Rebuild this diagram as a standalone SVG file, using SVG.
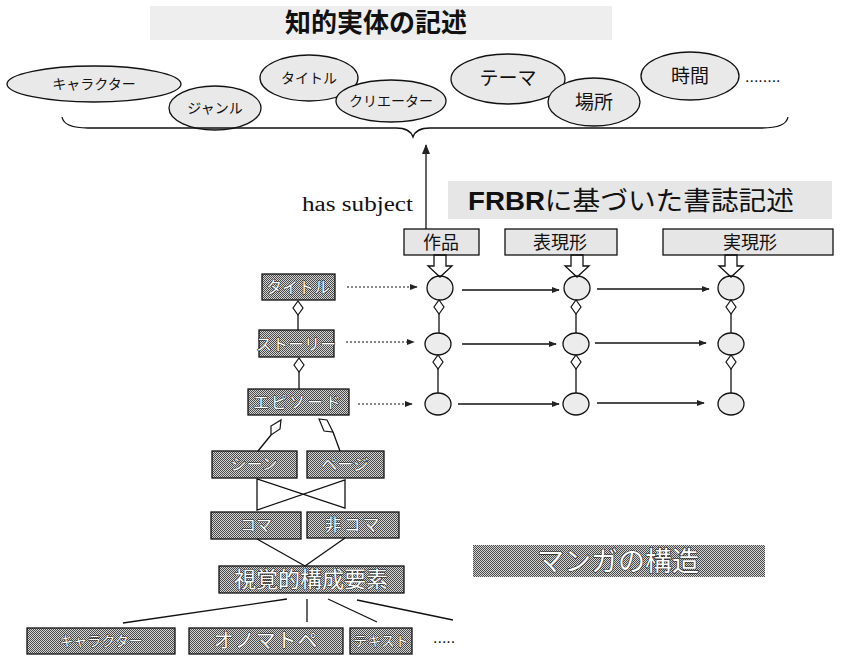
<svg xmlns="http://www.w3.org/2000/svg" width="842" height="659" viewBox="0 0 842 659">
<style>
.jp{font-family:"Noto Sans CJK JP","Noto Sans",sans-serif;}
.lbl{fill:#111;text-anchor:middle;}
.wt{fill:#fff;stroke:#222;stroke-width:1;paint-order:stroke;text-anchor:middle;font-family:"Noto Sans CJK JP",sans-serif;}
.ell{fill:#e9e9e9;stroke:#111;stroke-width:1.3;}
.dk{fill:url(#dither);stroke:#111;stroke-width:1.3;}
.lt{fill:#e6e6e6;stroke:#111;stroke-width:1.3;}
.ln{stroke:#111;stroke-width:1.3;fill:none;}
.dot{stroke:#111;stroke-width:1.2;stroke-dasharray:2 2;fill:none;}
.dia{fill:#fff;stroke:#111;stroke-width:1.2;}
.cir{fill:#ececec;stroke:#111;stroke-width:1.3;}
</style>
<defs>
<pattern id="dither" width="2" height="2" patternUnits="userSpaceOnUse">
<rect width="2" height="2" fill="#d4d4d4"/>
<rect width="1" height="1" fill="#4a4a4a"/>
<rect x="1" y="1" width="1" height="1" fill="#4a4a4a"/>
</pattern>
<marker id="ah" viewBox="0 0 10 10" refX="9" refY="5" markerWidth="8" markerHeight="8" markerUnits="userSpaceOnUse" orient="auto">
<path d="M0,1 L10,5 L0,9 Z" fill="#222"/>
</marker>
<marker id="ahb" viewBox="0 0 10 10" refX="9" refY="5" markerWidth="10" markerHeight="10" markerUnits="userSpaceOnUse" orient="auto">
<path d="M0,1 L10,5 L0,9 Z" fill="#222"/>
</marker>
</defs>
<rect width="842" height="659" fill="#fff"/>

<g id="title1">
<rect x="150" y="6" width="462" height="34" fill="#eeeeee"/>
<text x="376" y="32" class="jp" font-size="26" font-weight="bold" text-anchor="middle" fill="#111">知的実体の記述</text>
</g>

<g id="e-character"><ellipse class="ell" cx="94" cy="84" rx="87" ry="18"/><text class="jp lbl" x="94" y="89" font-size="14">キャラクター</text></g>
<g id="e-genre"><ellipse class="ell" cx="215" cy="108" rx="46" ry="22"/><text class="jp lbl" x="215" y="113" font-size="14">ジャンル</text></g>
<g id="e-title"><ellipse class="ell" cx="309" cy="78" rx="49" ry="23"/><text class="jp lbl" x="309" y="83" font-size="14">タイトル</text></g>
<g id="e-creator"><ellipse class="ell" cx="391" cy="101" rx="55" ry="21"/><text class="jp lbl" x="391" y="106" font-size="14">クリエーター</text></g>
<g id="e-theme"><ellipse class="ell" cx="508" cy="79" rx="57" ry="25"/><text class="jp lbl" x="508" y="85" font-size="19">テーマ</text></g>
<g id="e-place"><ellipse class="ell" cx="594" cy="102" rx="46" ry="24"/><text class="jp lbl" x="594" y="109" font-size="19">場所</text></g>
<g id="e-time"><ellipse class="ell" cx="690" cy="76" rx="49" ry="24"/><text class="jp lbl" x="690" y="83" font-size="19">時間</text></g>
<text x="745" y="82" font-family="Liberation Sans,sans-serif" font-size="16" fill="#111">........</text>

<g id="title2">
<rect x="448" y="181" width="384" height="38" fill="#e6e6e6"/>
<text x="468" y="210" font-size="26" fill="#111" textLength="326" lengthAdjust="spacingAndGlyphs"><tspan font-family="Liberation Sans,sans-serif" font-weight="bold">FRBR</tspan><tspan class="jp">に基づいた書誌記述</tspan></text>
</g>
<text x="302" y="211" font-family="Liberation Serif,serif" font-size="20" fill="#111" textLength="111" lengthAdjust="spacingAndGlyphs">has subject</text>

<g id="b-work"><rect class="lt" x="404" y="229" width="75" height="26"/><text class="jp lbl" x="441" y="249" font-size="18">作品</text></g>
<g id="b-expr"><rect class="lt" x="505" y="229" width="112" height="26"/><text class="jp lbl" x="560" y="249" font-size="18">表現形</text></g>
<g id="b-manif"><rect class="lt" x="663" y="229" width="170" height="26"/><text class="jp lbl" x="750" y="249" font-size="18">実現形</text></g>

<g id="c11"><ellipse class="cir" cx="440" cy="288" rx="13" ry="12"/></g>
<g id="c12"><ellipse class="cir" cx="577" cy="288" rx="13" ry="12"/></g>
<g id="c13"><ellipse class="cir" cx="731" cy="288" rx="13" ry="12"/></g>
<g id="c21"><ellipse class="cir" cx="438" cy="344" rx="13" ry="11"/></g>
<g id="c22"><ellipse class="cir" cx="576" cy="344" rx="13" ry="11"/></g>
<g id="c23"><ellipse class="cir" cx="731" cy="344" rx="13" ry="11"/></g>
<g id="c31"><ellipse class="cir" cx="438" cy="404" rx="13" ry="11"/></g>
<g id="c32"><ellipse class="cir" cx="576" cy="404" rx="13" ry="11"/></g>
<g id="c33"><ellipse class="cir" cx="731" cy="404" rx="13" ry="11"/></g>

<g id="l-title"><rect class="dk" x="262" y="274" width="73" height="26"/><text class="wt" x="298" y="293" font-size="16">タイトル</text></g>
<g id="l-story"><rect class="dk" x="259" y="330" width="75" height="27"/><text class="wt" x="296" y="350" font-size="16">ストーリー</text></g>
<g id="l-episode"><rect class="dk" x="248" y="389" width="101" height="26"/><text class="wt" x="298" y="408" font-size="16" letter-spacing="2">エピソード</text></g>
<g id="l-scene"><rect class="dk" x="212" y="451" width="85" height="27"/><text class="wt" x="254" y="470" font-size="16">シーン</text></g>
<g id="l-page"><rect class="dk" x="307" y="451" width="77" height="27"/><text class="wt" x="345" y="470" font-size="16">ページ</text></g>
<g id="l-koma"><rect class="dk" x="211" y="512" width="90" height="27"/><text class="wt" x="256" y="531" font-size="16">コマ</text></g>
<g id="l-hikoma"><rect class="dk" x="307" y="512" width="92" height="26"/><text class="wt" x="353" y="531" font-size="17" letter-spacing="2">非コマ</text></g>
<g id="l-visual"><rect class="dk" x="219" y="566" width="185" height="27"/><text class="wt" x="311" y="587" font-size="22">視覚的構成要素</text></g>
<g id="l-char"><rect class="dk" x="27" y="628" width="148" height="26"/><text class="wt" x="101" y="646" font-size="14">キャラクター</text></g>
<g id="l-onom"><rect class="dk" x="189" y="628" width="154" height="26"/><text class="wt" x="266" y="648" font-size="20" letter-spacing="1">オノマトペ</text></g>
<g id="l-text"><rect class="dk" x="350" y="628" width="62" height="26"/><text class="wt" x="381" y="646" font-size="14">テキスト</text></g>
<text x="433" y="643" font-family="Liberation Sans,sans-serif" font-size="16" fill="#111">.....</text>

<g id="manga">
<rect x="473" y="545" width="292" height="32" fill="url(#dither)"/>
<text x="618" y="571" font-family="Noto Sans CJK JP,sans-serif" font-size="27" fill="#fff" stroke="#222" stroke-width="1.2" paint-order="stroke" text-anchor="middle">マンガの構造</text>
</g>

<g id="connectors">
<path class="ln" d="M62,117 Q64,128 88,128 L396,128 Q410,128 413,137 Q416,128 430,128 L762,128 Q786,128 788,117"/>
<line class="ln" x1="426" y1="229" x2="426" y2="145" marker-end="url(#ahb)"/>
<path class="ln" fill="#fff" d="M434,255 L446,255 L446,266 L452,266 L440,277 L428,266 L434,266 Z"/>
<path class="ln" fill="#fff" d="M571,255 L583,255 L583,266 L589,266 L577,277 L565,266 L571,266 Z"/>
<path class="ln" fill="#fff" d="M725,255 L737,255 L737,266 L743,266 L731,277 L719,266 L725,266 Z"/>
<line class="ln" x1="462" y1="290" x2="559" y2="290" marker-end="url(#ah)"/>
<line class="ln" x1="597" y1="289" x2="709" y2="289" marker-end="url(#ah)"/>
<line class="ln" x1="462" y1="344" x2="556" y2="344" marker-end="url(#ah)"/>
<line class="ln" x1="595" y1="343" x2="706" y2="343" marker-end="url(#ah)"/>
<line class="ln" x1="458" y1="404" x2="559" y2="404" marker-end="url(#ah)"/>
<line class="ln" x1="597" y1="403" x2="704" y2="403" marker-end="url(#ah)"/>
<line class="dot" x1="347" y1="287" x2="417" y2="287" marker-end="url(#ah)"/>
<line class="dot" x1="346" y1="342" x2="414" y2="342" marker-end="url(#ah)"/>
<line class="dot" x1="358" y1="404" x2="412" y2="404" marker-end="url(#ah)"/>
<line class="ln" x1="439" y1="314" x2="439" y2="333"/>
<polygon class="dia" points="439,300 444,307 439,314 434,307"/>
<line class="ln" x1="438" y1="369" x2="438" y2="393"/>
<polygon class="dia" points="438,355 443,362 438,369 433,362"/>
<line class="ln" x1="576" y1="314" x2="576" y2="333"/>
<polygon class="dia" points="576,300 581,307 576,314 571,307"/>
<line class="ln" x1="576" y1="369" x2="576" y2="393"/>
<polygon class="dia" points="576,355 581,362 576,369 571,362"/>
<line class="ln" x1="731" y1="314" x2="731" y2="333"/>
<polygon class="dia" points="731,300 736,307 731,314 726,307"/>
<line class="ln" x1="731" y1="369" x2="731" y2="393"/>
<polygon class="dia" points="731,355 736,362 731,369 726,362"/>
<line class="ln" x1="298" y1="315" x2="298" y2="330"/>
<polygon class="dia" points="298,301 303,308 298,315 293,308"/>
<line class="ln" x1="299" y1="372" x2="299" y2="389"/>
<polygon class="dia" points="299,358 304,365 299,372 294,365"/>
<polygon class="dia" points="281,420 280,429 271,435 271,426"/>
<line class="ln" x1="271" y1="435" x2="258" y2="451"/>
<polygon class="dia" points="319,419 327,420 333,432 324,431"/>
<line class="ln" x1="333" y1="432" x2="340" y2="451"/>
<path class="ln" d="M257,479 L257,510 L345,480 L345,508 Z"/>
<line class="ln" x1="257" y1="539" x2="305" y2="566"/>
<line class="ln" x1="345" y1="538" x2="305" y2="566"/>
<line class="ln" x1="287" y1="599" x2="123" y2="623"/>
<line class="ln" x1="307" y1="599" x2="307" y2="622"/>
<line class="ln" x1="328" y1="599" x2="377" y2="622"/>
<line class="ln" x1="357" y1="600" x2="453" y2="620"/>
</g>
</svg>
